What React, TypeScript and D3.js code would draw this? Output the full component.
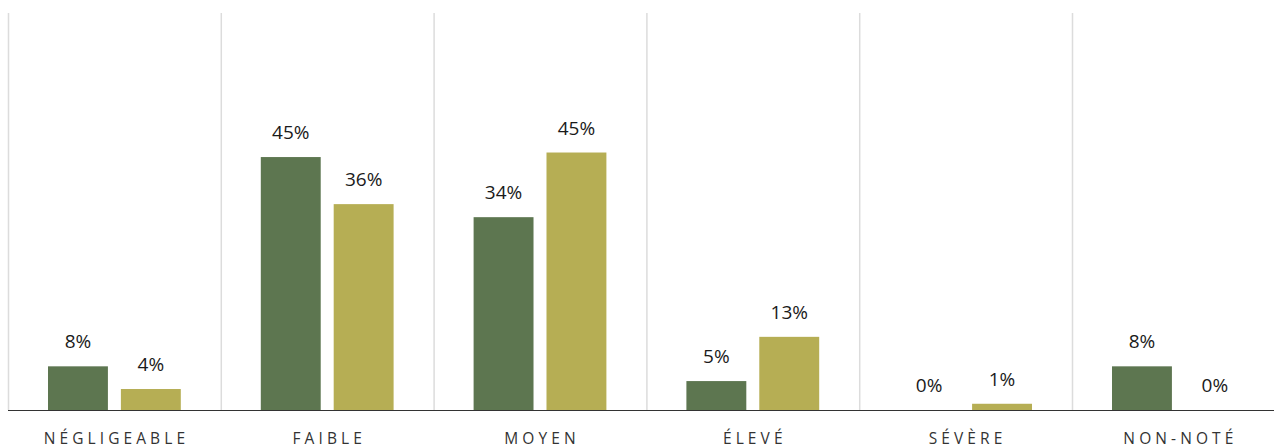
import React from "react";
import * as d3 from "d3";

const categories = ["NÉGLIGEABLE", "FAIBLE", "MOYEN", "ÉLEVÉ", "SÉVÈRE", "NON-NOTÉ"];
const seriesNames = ["Série 1", "Série 2"];
const series1 = [7.7, 44.6, 34.0, 5.1, 0, 7.7];
const series2 = [3.7, 36.3, 45.4, 12.9, 1.1, 0];
const colors = ["#5d7650", "#b6ae54"];

const W = 1274;
const H = 448;
const left = 8;
const step = 212.8;
const baseY = 410;
const topY = 13;

export default function App() {
  const x0 = d3
    .scaleBand<string>()
    .domain(categories)
    .range([left, left + step * categories.length])
    .padding(0);
  const bw = x0.bandwidth();
  const x1 = d3
    .scaleBand<string>()
    .domain(seriesNames)
    .range([40, bw - 40])
    .paddingInner(13 / 73)
    .paddingOuter(0);
  const y = d3.scaleLinear().domain([0, 70]).range([baseY, topY]);
  const data = [series1, series2];
  const fmt = (v: number) => `${Math.round(v)}%`;
  const font = "'Open Sans', 'Noto Sans', sans-serif";

  return (
    <div style={{ position: "fixed", left: 0, top: 0, width: W, height: H, background: "#fff" }}>
      <svg width={W} height={H} style={{ display: "block" }}>
        {categories.map((c) => (
          <line
            key={"g" + c}
            x1={x0(c)! + 0.5}
            x2={x0(c)! + 0.5}
            y1={topY}
            y2={baseY}
            stroke="#dcdcdc"
            strokeWidth={1.5}
          />
        ))}
        {categories.map((c, i) =>
          data.map((s, j) => {
            const v = s[i];
            const bx = x0(c)! + x1(seriesNames[j])!;
            const by = y(v);
            return (
              <g key={c + j}>
                {v > 0 && (
                  <rect x={bx} y={by} width={x1.bandwidth()} height={baseY - by} fill={colors[j]} />
                )}
                <text
                  x={bx + x1.bandwidth() / 2}
                  y={by - 18}
                  textAnchor="middle"
                  fontFamily={font}
                  fontSize={19}
                  fill="#1a1a1a"
                >
                  {fmt(v)}
                </text>
              </g>
            );
          })
        )}
        <line x1={left} x2={W} y1={baseY + 0.5} y2={baseY + 0.5} stroke="#333" strokeWidth={1.2} />
        {categories.map((c) => (
          <text
            key={"l" + c}
            x={x0(c)! + bw / 2 + 2}
            y={444}
            textAnchor="middle"
            fontFamily={font}
            fontSize={15.5}
            letterSpacing={4.1}
            fill="#333"
          >
            {c}
          </text>
        ))}
      </svg>
    </div>
  );
}
